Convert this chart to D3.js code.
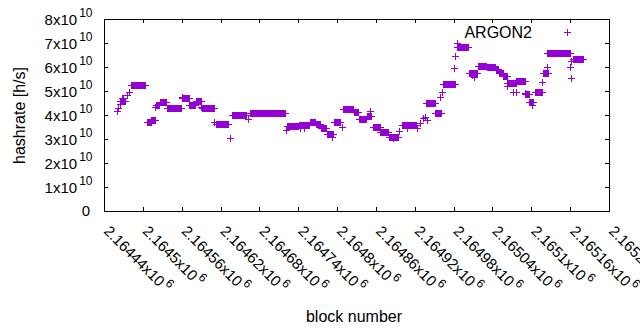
<!DOCTYPE html>
<html>
<head>
<meta charset="utf-8">
<script src="https://cdn.jsdelivr.net/npm/d3@7"></script>
<style>
  body { margin: 0; background: #fff; }
  svg { display: block; font-family: "Liberation Sans", Arial, sans-serif; }
</style>
</head>
<body>
<script>
// hashrate runs: first block, last block, hashrate in units of 1e10 h/s
const runStart = [2164460, 2164462, 2164465, 2164464, 2164468, 2164476, 2164479, 2164482, 2164506, 2164513,
  2164519, 2164520, 2164526, 2164537, 2164560, 2164561, 2164572, 2164582, 2164590, 2164592,
  2164610, 2164613, 2164635, 2164638, 2164663, 2164665, 2164721, 2164723, 2164741, 2164743,
  2164749, 2164758, 2164767, 2164775, 2164784, 2164792, 2164795, 2164807, 2164809, 2164826,
  2164834, 2164846, 2164851, 2164855, 2164867, 2164880, 2164886, 2164895, 2164900, 2164908,
  2164923, 2164928, 2164933, 2164936, 2164939, 2164937, 2164952, 2164959, 2164962, 2164964,
  2164980, 2164982, 2164985, 2164986, 2165003, 2165008, 2165012, 2165018, 2165031, 2165045,
  2165050, 2165057, 2165062, 2165063, 2165072, 2165077, 2165077, 2165090, 2165091, 2165097,
  2165101, 2165106, 2165116, 2165118, 2165119, 2165124, 2165125, 2165160, 2165161, 2165162,
  2165165]
const runEnd = [2164460, 2164462, 2164465, 2164473, 2164470, 2164476, 2164479, 2164504, 2164512, 2164518,
  2164519, 2164525, 2164536, 2164559, 2164560, 2164571, 2164581, 2164590, 2164590, 2164610,
  2164610, 2164632, 2164635, 2164659, 2164663, 2164720, 2164721, 2164740, 2164757, 2164743,
  2164749, 2164766, 2164774, 2164783, 2164794, 2164792, 2164804, 2164807, 2164825, 2164833,
  2164845, 2164852, 2164851, 2164866, 2164879, 2164894, 2164886, 2164895, 2164922, 2164908,
  2164923, 2164928, 2164933, 2164936, 2164939, 2164951, 2164960, 2164959, 2164962, 2164982,
  2164980, 2164982, 2164985, 2165002, 2165016, 2165008, 2165012, 2165030, 2165044, 2165049,
  2165056, 2165062, 2165062, 2165076, 2165072, 2165090, 2165077, 2165090, 2165096, 2165103,
  2165101, 2165116, 2165116, 2165118, 2165126, 2165124, 2165160, 2165160, 2165161, 2165162,
  2165180]
const runValue = [4.18, 4.30, 4.45, 4.60, 4.70, 4.83, 4.97, 5.27, 3.70, 3.80,
  4.35, 4.42, 4.56, 4.28, 4.74, 4.69, 4.42, 4.58, 4.35, 4.28,
  3.72, 3.61, 3.03, 4.00, 3.82, 4.07, 3.37, 3.54, 3.58, 3.44,
  3.44, 3.71, 3.62, 3.46, 3.20, 3.10, 3.72, 3.51, 4.27, 4.14,
  3.82, 3.95, 4.18, 3.49, 3.30, 3.10, 3.03, 3.35, 3.58, 3.44,
  3.44, 3.65, 3.86, 3.93, 3.79, 4.49, 4.08, 4.74, 4.97, 5.29,
  5.94, 6.46, 6.99, 6.83, 5.74, 5.65, 5.60, 6.06, 5.98, 5.90,
  5.75, 5.61, 5.21, 5.32, 4.97, 5.40, 4.97, 4.90, 4.88, 4.54,
  4.42, 4.96, 5.39, 5.74, 5.76, 6.01, 6.57, 6.01, 5.53, 6.26,
  6.34]

const xTicks = [2164440, 2164500, 2164560, 2164620, 2164680, 2164740, 2164800,
  2164860, 2164920, 2164980, 2165040, 2165100, 2165160, 2165220]
const xTickLabels = ["2.16444", "2.1645", "2.16456", "2.16462", "2.16468", "2.16474", "2.1648",
  "2.16486", "2.16492", "2.16498", "2.16504", "2.1651", "2.16516", "2.16522"]
const yTicks = [0, 1e10, 2e10, 3e10, 4e10, 5e10, 6e10, 7e10, 8e10]
const yTickLabels = ["0", "1", "2", "3", "4", "5", "6", "7", "8"]

const seriesName = "ARGON2"
const color = "#9400d3"

const w = 640
const h = 330
const plotL = 104, plotR = 609, plotT = 19, plotB = 211

// one point per block inside each run
const points = []
for (let i = 0; i < runStart.length; i++) {
    for (let b = runStart[i]; b <= runEnd[i]; b++) {
        points.push({ block: b, rate: runValue[i] * 1e10 })
    }
}

const x = d3.scaleLinear().domain([2164440, 2165220]).range([plotL, plotR])
const y = d3.scaleLinear().domain([0, 8e10]).range([plotB, plotT])

const svg = d3.select("body")
    .append("svg")
    .attr("width", w)
    .attr("height", h)

// mirrored inward ticks on all four sides
const tickLen = 4
svg.append("g").attr("transform", `translate(0,${plotB})`)
    .call(d3.axisBottom(x).tickValues(xTicks).tickSize(-tickLen).tickFormat(""))
svg.append("g").attr("transform", `translate(0,${plotT})`)
    .call(d3.axisTop(x).tickValues(xTicks).tickSize(-tickLen).tickFormat(""))
svg.append("g").attr("transform", `translate(${plotL},0)`)
    .call(d3.axisLeft(y).tickValues(yTicks).tickSize(-tickLen).tickFormat(""))
svg.append("g").attr("transform", `translate(${plotR},0)`)
    .call(d3.axisRight(y).tickValues(yTicks).tickSize(-tickLen).tickFormat(""))
svg.selectAll(".domain").remove()
svg.selectAll(".tick line").attr("stroke", "#000").attr("shape-rendering", "crispEdges")

svg.append("rect")
    .attr("x", plotL + 0.5)
    .attr("y", plotT + 0.5)
    .attr("width", plotR - plotL)
    .attr("height", plotB - plotT)
    .attr("fill", "none")
    .attr("stroke", "#000")
    .attr("shape-rendering", "crispEdges")

// y tick labels, "Nx10^10"
const yLab = svg.append("g").attr("font-size", 15).attr("fill", "#000")
yTicks.forEach((v, i) => {
    if (v === 0) {
        yLab.append("text")
            .attr("x", 90)
            .attr("y", y(v) + 5)
            .attr("text-anchor", "end")
            .text(yTickLabels[i])
        return
    }
    const t = yLab.append("text")
        .attr("x", 92.5)
        .attr("y", y(v) + 5.5)
        .attr("text-anchor", "end")
    t.append("tspan").text(yTickLabels[i] + "x10")
    t.append("tspan").attr("dx", 2).attr("dy", -7.5).attr("font-size", 12).text("10")
})

// x tick labels, rotated
const xLab = svg.append("g").attr("font-size", 15).attr("fill", "#000")
xTicks.forEach((v, i) => {
    const t = xLab.append("text")
        .attr("transform", `translate(${x(v) - 1},232) rotate(45)`)
    t.append("tspan").text(xTickLabels[i] + "x10")
    t.append("tspan").attr("dx", 2).attr("dy", -7).attr("font-size", 12).text("6")
})

// axis titles
svg.append("text")
    .attr("x", 354)
    .attr("y", 321.5)
    .attr("text-anchor", "middle")
    .attr("font-size", 16)
    .text("block number")

svg.append("text")
    .attr("transform", "translate(25,115.5) rotate(-90)")
    .attr("text-anchor", "middle")
    .attr("font-size", 16)
    .text("hashrate [h/s]")

const plus = (cx, cy) => {
    cx = Math.round(cx)
    cy = Math.round(cy)
    return `M${cx - 3},${cy + 0.5}H${cx + 4}M${cx + 0.5},${cy - 3}V${cy + 4}`
}

svg.append("g")
    .selectAll("path")
    .data(points)
    .enter()
    .append("path")
    .attr("d", d => plus(x(d.block), y(d.rate)))
    .attr("stroke", color)
    .attr("stroke-width", 1)
    .attr("fill", "none")
    .attr("shape-rendering", "crispEdges")

// key
svg.append("text")
    .attr("x", 532)
    .attr("y", 37.5)
    .attr("text-anchor", "end")
    .attr("font-size", 16)
    .text(seriesName)
svg.append("path")
    .attr("d", plus(567, 32))
    .attr("stroke", color)
    .attr("fill", "none")
    .attr("shape-rendering", "crispEdges")
</script>
</body>
</html>
